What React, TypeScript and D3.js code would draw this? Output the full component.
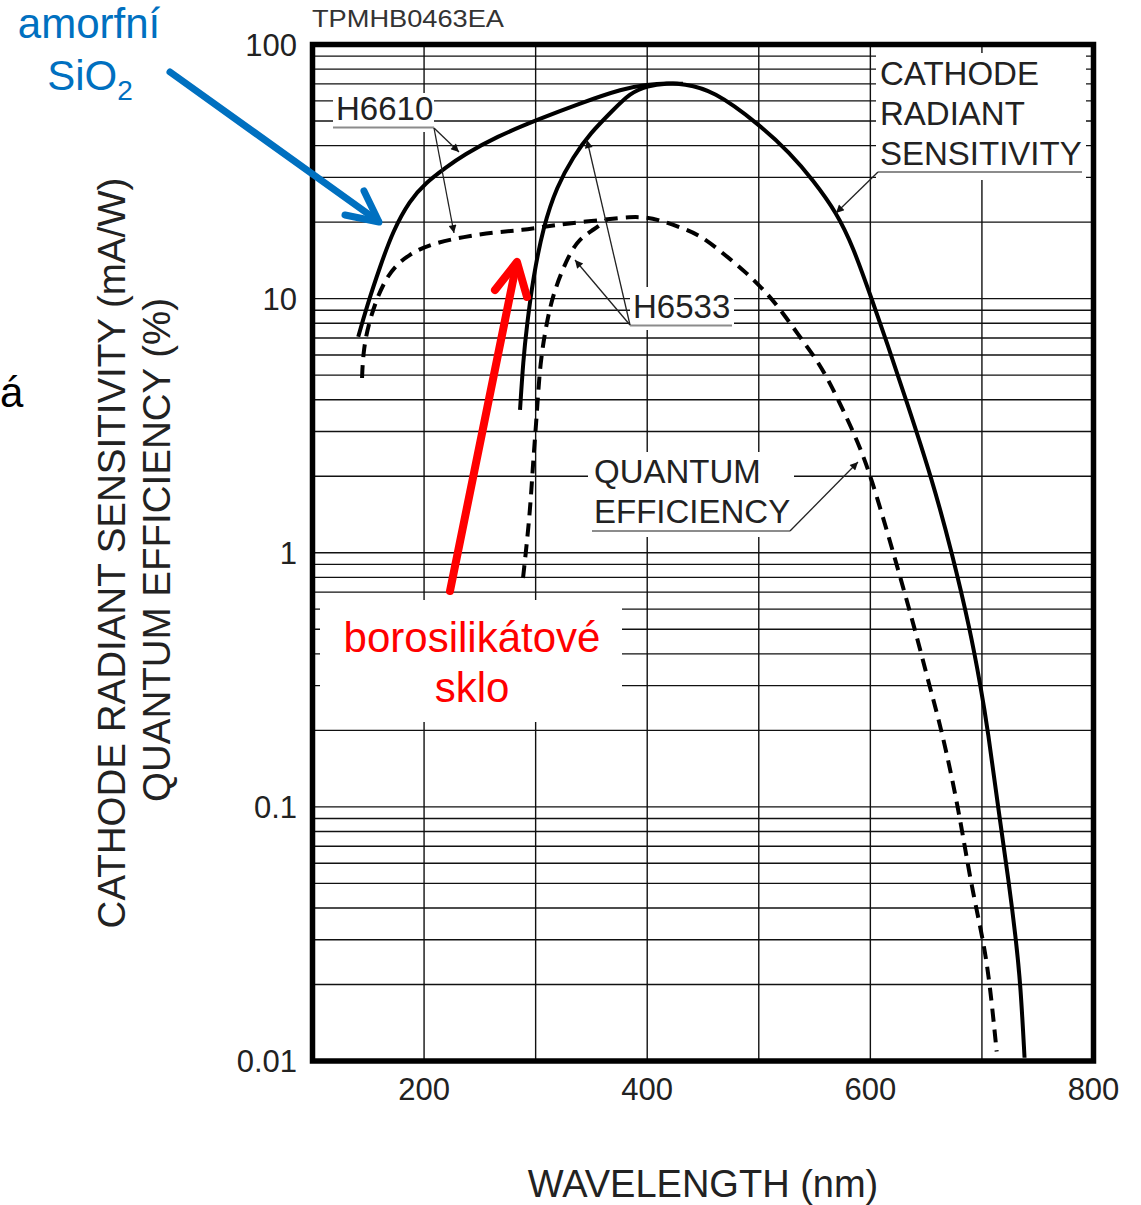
import React from "react";
import * as d3 from "d3";

// ---------- data ----------
const xTickValues = [200, 400, 600, 800];
const xGridValues = [200, 300, 400, 500, 600, 700];
const yTickValues = [100, 10, 1, 0.1, 0.01];
const yTickLabels = ["100", "10", "1", "0.1", "0.01"];

// Cathode radiant sensitivity (mA/W)
const sensH6610Nm = [141, 148.6, 160.5, 172.4, 187.4, 200.8, 220.3, 235.2, 265.1, 301, 339.8, 378.6, 400];
const sensH6610Val = [7.08, 9.29, 13.36, 18.6, 24.4, 28.4, 33.0, 36.7, 43.4, 50.5, 58.7, 67.2, 69.5];
const sensH6533Nm = [286, 288.9, 292, 297.9, 306.9, 318.9, 333.8, 348.7, 369.6, 384.6, 400];
const sensH6533Val = [3.65, 5.73, 7.75, 12.2, 19.2, 27.6, 36.2, 44.7, 55.3, 64.4, 68.8];
const sensCommonNm = [418, 432, 459, 501, 528, 548.6, 570, 584.5, 601.5, 615, 633, 654.5, 673.2, 689.3, 698.7, 705.4, 714.4, 724.3, 730.5, 734.6, 738.2];
const sensCommonVal = [70.4, 70.0, 66.2, 48.2, 37.4, 29.3, 21.7, 16.0, 9.88, 6.69, 3.88, 2, 1, 0.5, 0.3, 0.2, 0.1, 0.05, 0.03, 0.02, 0.0103];

// Quantum efficiency (%)
const qeH6610Nm = [144.4, 145.5, 151.5, 166.5, 187.4, 208.3, 235.2, 265.1, 288.9, 306.9, 330.8, 363.7];
const qeH6610Val = [4.87, 6.28, 8.49, 12.6, 15.1, 16.5, 17.5, 18.3, 18.6, 19.2, 19.8, 20.5];
const qeH6533Nm = [288.7, 295, 297.6, 301.2, 303.9, 310.2, 317, 330, 340, 351.4, 363.7];
const qeH6533Val = [0.795, 1.43, 2.25, 3.55, 5.58, 8.24, 10.9, 15.0, 17.3, 18.6, 20.4];
const qeCommonNm = [384.6, 400, 412, 429.4, 447.3, 467.9, 489.4, 507.4, 521.7, 536.9, 552.2, 563.8, 575.5, 588, 600.6, 620.6, 640, 652.9, 664, 678.8, 690, 701.2, 707.2, 713.2];
const qeCommonVal = [21.0, 20.9, 20.3, 19.1, 17.8, 15.1, 12.6, 10.5, 8.78, 7.06, 5.73, 4.66, 3.65, 2.78, 2.0, 1.0, 0.5, 0.3, 0.2, 0.1, 0.05, 0.03, 0.02, 0.0109];

const zip = (a: number[], b: number[]): [number, number][] => a.map((v, i) => [v, b[i]]);

const FONT = "'Liberation Sans', Arial, Helvetica, sans-serif";

export default function App() {
  const W = 1141, H = 1205;
  const x = d3.scaleLinear().domain([100, 800]).range([312.5, 1093.5]);
  const y = d3.scaleLog().domain([0.01, 100]).range([1061, 44.5]);
  const [x0, x1] = x.range();
  const [yb, yt] = y.range();

  const line = d3
    .line<[number, number]>()
    .x((d) => x(d[0]))
    .y((d) => y(d[1]))
    .curve(d3.curveBasis);

  const sens6610 = zip(sensH6610Nm, sensH6610Val).concat(zip(sensCommonNm, sensCommonVal));
  const sens6533 = zip(sensH6533Nm, sensH6533Val).concat(zip(sensCommonNm.slice(0, 2), sensCommonVal.slice(0, 2)));
  const qe6610 = zip(qeH6610Nm, qeH6610Val).concat(zip(qeCommonNm, qeCommonVal));
  const qe6533 = zip(qeH6533Nm, qeH6533Val);

  const yGrid = y.ticks().filter((v) => v > 0.0100001 && v < 99.999);

  const gridColor = "#111";
  const labelColor = "#222";
  const ulColor = "#8c8c8c";

  const leader = (xa: number, ya: number, xb: number, yb2: number, key: string) => (
    <line key={key} x1={xa} y1={ya} x2={xb} y2={yb2} stroke="#222" strokeWidth={1.3} markerEnd="url(#ah)" />
  );

  return (
    <svg width={W} height={H} viewBox={`0 0 ${W} ${H}`} style={{ position: "absolute", left: 0, top: 0, background: "#fff" }}>
      <defs>
        <marker id="ah" viewBox="0 0 10 10" refX="10" refY="5" markerWidth="15" markerHeight="8" markerUnits="userSpaceOnUse" orient="auto">
          <path d="M0,0 L10,5 L0,10 z" fill="#111" />
        </marker>
      </defs>
      <rect x={0} y={0} width={W} height={H} fill="#fff" />

      {/* grid */}
      {xGridValues.map((v) => (
        <line key={"vx" + v} x1={x(v)} x2={x(v)} y1={yt} y2={yb} stroke={gridColor} strokeWidth={1.4} />
      ))}
      {yGrid.map((v) => (
        <line key={"hy" + v} x1={x0} x2={x1} y1={y(v)} y2={y(v)} stroke={gridColor} strokeWidth={1.4} />
      ))}

      {/* white label boxes masking grid */}
      <rect x={333} y={93} width={101} height={39} fill="#fff" />
      <rect x={876} y={53} width={210} height={127} fill="#fff" />
      <rect x={630} y={287} width={104} height={43} fill="#fff" />
      <rect x={588} y={452} width={206} height={85} fill="#fff" />
      <rect x={320} y={600} width={302} height={122} fill="#fff" />

      {/* curves */}
      <path d={line(sens6610) || ""} fill="none" stroke="#000" strokeWidth={4} />
      <path d={line(sens6533) || ""} fill="none" stroke="#000" strokeWidth={4} />
      <path d={line(qe6610) || ""} fill="none" stroke="#000" strokeWidth={4} strokeDasharray="13 8" />
      <path d={line(qe6533) || ""} fill="none" stroke="#000" strokeWidth={4} strokeDasharray="13 8" />

      {/* in-plot labels */}
      <g fontFamily={FONT} fontSize={33} fill={labelColor}>
        <text x={336} y={120}>H6610</text>
        <text x={633} y={318}>H6533</text>
        <text x={880} y={85}>CATHODE</text>
        <text x={880} y={125}>RADIANT</text>
        <text x={880} y={165}>SENSITIVITY</text>
        <text x={594} y={483}>QUANTUM</text>
        <text x={594} y={523}>EFFICIENCY</text>
      </g>
      <g stroke={ulColor} strokeWidth={2}>
        <line x1={333} x2={434} y1={127.5} y2={127.5} />
        <line x1={630} x2={732} y1={325.5} y2={325.5} />
        <line x1={878} x2={1082} y1={172} y2={172} />
        <line x1={592} x2={790} y1={531} y2={531} />
      </g>
      {leader(434, 128, 459, 152, "l1")}
      {leader(434, 128, 454, 233, "l2")}
      {leader(630, 325, 587, 140, "l3")}
      {leader(630, 325, 575, 260, "l4")}
      {leader(878, 172, 836, 213, "l5")}
      {leader(790, 531, 858, 462, "l6")}

      {/* frame */}
      <rect x={x0} y={yt} width={x1 - x0} height={yb - yt} fill="none" stroke="#000" strokeWidth={5.5} />

      {/* ticks */}
      <g fontFamily={FONT} fontSize={31} fill={labelColor}>
        {yTickValues.map((v, i) => (
          <text key={"yt" + v} x={297} y={y(v)} dy="0.36em" textAnchor="end">{yTickLabels[i]}</text>
        ))}
        {xTickValues.map((v) => (
          <text key={"xt" + v} x={x(v)} y={1100} textAnchor="middle">{v}</text>
        ))}
      </g>
      <text x={312} y={27} fontFamily={FONT} fontSize={24} fill="#333" textLength={192} lengthAdjust="spacingAndGlyphs">TPMHB0463EA</text>

      {/* axis titles */}
      <text x={703} y={1197} fontFamily={FONT} fontSize={38} fill={labelColor} textAnchor="middle">WAVELENGTH (nm)</text>
      <g fontFamily={FONT} fontSize={38.5} fill={labelColor} textAnchor="middle">
        <text transform="translate(125,553) rotate(-90)">CATHODE RADIANT SENSITIVITY (mA/W)</text>
        <text transform="translate(170,550) rotate(-90)">QUANTUM EFFICIENCY (%)</text>
      </g>

      {/* overlay annotations */}
      <text x={0} y={407} fontFamily={FONT} fontSize={42} fill="#000">á</text>
      <g fontFamily={FONT} fontSize={42} fill="#0070C0" textAnchor="middle">
        <text x={89} y={38}>amorfní</text>
        <text x={90} y={90}>SiO<tspan fontSize={28} dy={10}>2</tspan></text>
      </g>
      <g stroke="#0070C0" strokeWidth={7} fill="none" strokeLinecap="round" strokeLinejoin="round">
        <line x1={170} y1={72} x2={378} y2={221} />
        <polyline points="345,215 379,222 364,191" />
      </g>
      <g stroke="#FF0000" strokeWidth={8} fill="none" strokeLinecap="round" strokeLinejoin="round">
        <line x1={450} y1={591} x2={516} y2={266} />
        <polyline points="495,290 517,262 527,297" />
      </g>
      <g fontFamily={FONT} fontSize={42} fill="#FF0000" textAnchor="middle">
        <text x={472} y={652}>borosilikátové</text>
        <text x={472} y={702}>sklo</text>
      </g>
    </svg>
  );
}
